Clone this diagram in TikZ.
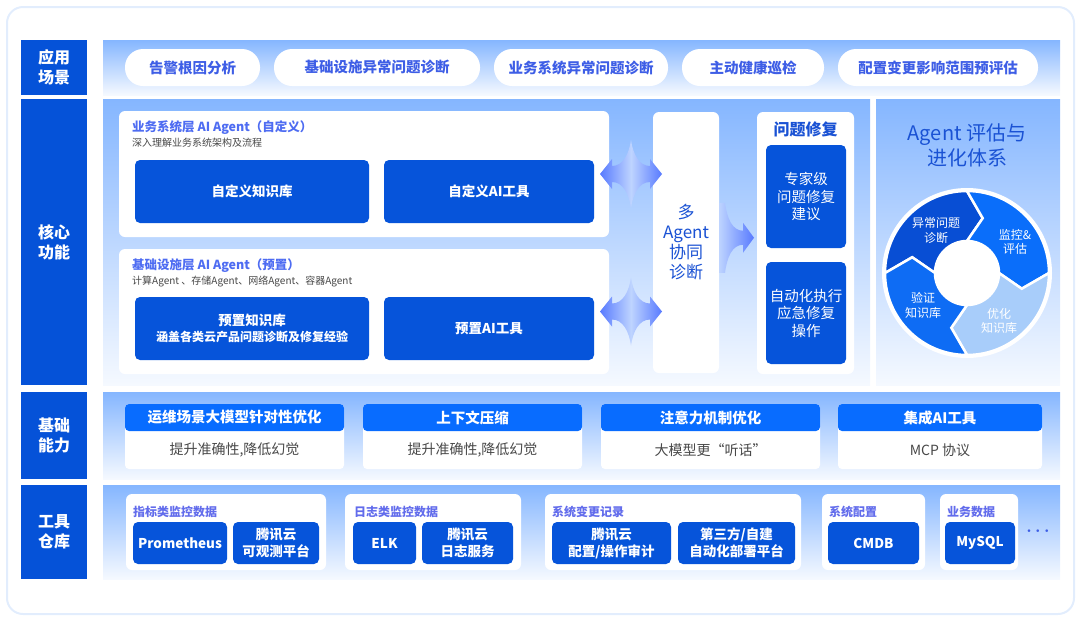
\documentclass[tikz,border=0pt]{standalone}
\usepackage{fontspec}
\setmainfont{Noto Sans CJK SC}
\usepackage{tikz}
\usetikzlibrary{calc}
\definecolor{labelblue}{RGB}{5,82,216}
\definecolor{boxblue}{RGB}{6,84,218}
\definecolor{headblue}{RGB}{8,108,255}
\definecolor{bandtop}{RGB}{133,182,255}
\definecolor{bandbot}{RGB}{245,249,255}
\definecolor{pilltext}{RGB}{62,94,230}
\definecolor{titleblue}{RGB}{78,108,242}
\definecolor{grouptext}{RGB}{98,108,236}
\definecolor{deepblue}{RGB}{26,82,212}
\definecolor{bodygrey}{RGB}{72,72,72}
\definecolor{frameline}{RGB}{226,237,253}
\definecolor{segA}{RGB}{8,78,212}
\definecolor{segB}{RGB}{10,110,250}
\definecolor{segC}{RGB}{168,205,250}
\definecolor{segD}{RGB}{14,108,244}
\definecolor{arrowblue}{RGB}{88,122,255}
\definecolor{arrowlight}{RGB}{190,212,255}

\begin{document}
\begin{tikzpicture}[x=1pt,y=-1pt,
    layer/.style={fill=labelblue,text=white,font=\fontsize{16}{20}\selectfont\bfseries,align=center,minimum width=66pt,inner sep=0pt},
    scene/.style={fill=white,rounded corners=18pt,text=pilltext,font=\fontsize{14.5}{17}\selectfont\bfseries,minimum height=37pt,inner sep=0pt},
    panel/.style={fill=white,rounded corners=6pt,inner sep=0pt},
    ptitle/.style={anchor=west,text=titleblue,font=\fontsize{12.5}{14}\selectfont\bfseries,inner sep=0pt},
    psub/.style={anchor=west,text=bodygrey,font=\fontsize{10}{12}\selectfont,inner sep=0pt},
    corebox/.style={fill=boxblue,rounded corners=5pt,text=white,font=\fontsize{13.5}{16}\selectfont\bfseries,align=center,minimum height=63pt,inner sep=0pt},
    fixbox/.style={fill=boxblue,rounded corners=5pt,text=white,font=\fontsize{14.5}{17.5}\selectfont,align=center,minimum width=80pt,inner sep=0pt},
    card/.style={fill=white,rounded corners=4pt,minimum height=65pt,inner sep=0pt},
    cardhead/.style={fill=headblue,rounded corners=4pt,text=white,font=\fontsize{14.5}{17}\selectfont\bfseries,minimum height=27pt,inner sep=0pt},
    cardbody/.style={text=bodygrey,font=\fontsize{14}{16}\selectfont,inner sep=0pt},
    group/.style={fill=white,rounded corners=6pt,minimum height=76pt,inner sep=0pt},
    gtitle/.style={anchor=west,text=grouptext,font=\fontsize{12}{14}\selectfont\bfseries,inner sep=0pt},
    tool/.style={fill=boxblue,rounded corners=5pt,text=white,font=\fontsize{13.5}{17}\selectfont\bfseries,align=center,minimum height=42pt,inner sep=0pt},
    segtext/.style={text=white,font=\fontsize{12}{14.5}\selectfont,align=center,inner sep=0pt},
    pics/dblarrow/.style={code={
      \shade[left color=arrowblue,right color=arrowblue,middle color=arrowlight]
        (-31,0) -- (-19,-15) -- (-19,-8) .. controls (-8,-8) and (-2,-20) .. (0,-34)
        .. controls (2,-20) and (8,-8) .. (19,-8) -- (19,-15) -- (31,0) -- (19,15) -- (19,8)
        .. controls (8,8) and (2,20) .. (0,34) .. controls (-2,20) and (-8,8) .. (-19,8) -- (-19,15) -- cycle;}},
    pics/fwdarrow/.style={code={
      \shade[left color=arrowlight,right color=arrowblue]
        (16,0) -- (5,-15) -- (5,-7) .. controls (-6,-7) and (-11,-20) .. (-13,-35) -- (-19,-35)
        -- (-19,35) -- (-13,35) .. controls (-11,20) and (-6,7) .. (5,7) -- (5,15) -- cycle;}}]
  \useasboundingbox (0,0) rectangle (1080,622);
  \draw[frameline,line width=2pt,rounded corners=16pt] (7,7) rectangle (1074,614);   % outer frame

  % bands
  \shade[top color=bandtop,bottom color=bandbot] (103,40) rectangle (1060,95);
  \shade[top color=bandtop,bottom color=bandbot] (103,99) rectangle (870,385);
  \shade[top color=bandtop,bottom color=bandbot] (876,99) rectangle (1060,385);
  \shade[top color=bandtop,bottom color=bandbot] (103,392) rectangle (1060,479);
  \shade[top color=bandtop,bottom color=bandbot] (103,485) rectangle (1060,579);

  % layer labels
  \node[layer,minimum height=55pt] (scenes) at (54,67.5) {应用\\场景};
  \node[layer,minimum height=286pt] (core) at (54,242) {核心\\功能};
  \node[layer,minimum height=87pt] (basic) at (54,435.5) {基础\\能力};
  \node[layer,minimum height=94pt] (tools) at (54,532) {工具\\仓库};

  % application scenes
  \node[scene,minimum width=135pt] (s1) at (192.5,67.5) {告警根因分析};
  \node[scene,minimum width=206pt] (s2) at (377,67.5) {基础设施异常问题诊断};
  \node[scene,minimum width=174pt] (s3) at (581,67.5) {业务系统异常问题诊断};
  \node[scene,minimum width=142pt] (s4) at (753,67.5) {主动健康巡检};
  \node[scene,minimum width=200pt] (s5) at (938,67.5) {配置变更影响范围预评估};

  % core functions
  \node[panel,minimum width=490pt,minimum height=126pt] (biz) at (364,174) {};
  \node[ptitle] (biztitle) at (132,128) {业务系统层 AI Agent（自定义）};
  \node[psub] (bizsub) at (132,143) {深入理解业务系统架构及流程};
  \node[corebox,minimum width=234pt] (kbcustom) at (252,191.5) {自定义知识库};
  \node[corebox,minimum width=210pt] (toolcustom) at (489,191.5) {自定义AI工具};

  \node[panel,minimum width=490pt,minimum height=125pt] (infra) at (364,311.5) {};
  \node[ptitle] (infratitle) at (132,266) {基础设施层 AI Agent（预置）};
  \node[psub] (infrasub) at (132,281) {计算Agent 、存储Agent、网络Agent、容器Agent};
  \node[corebox,minimum width=234pt] (kbpreset) at (252,328.5) {预置知识库\\{\fontsize{12}{15}\selectfont 涵盖各类云产品问题诊断及修复经验}};
  \node[corebox,minimum width=210pt] (toolpreset) at (489,328.5) {预置AI工具};

  \node[panel,minimum width=66pt,minimum height=261pt,text=deepblue,font=\fontsize{17}{20}\selectfont,align=center] (multi) at (686,242.5) {多\\Agent\\协同\\诊断};
  \node[panel,minimum width=97pt,minimum height=262pt] (fix) at (805.5,243) {};
  \node[text=deepblue,font=\fontsize{16}{18}\selectfont\bfseries,inner sep=0pt] (fixtitle) at (805.5,129) {问题修复};
  \node[fixbox,minimum height=103pt] (fixadvice) at (806,196.5) {专家级\\问题修复\\建议};
  \node[fixbox,minimum height=102pt] (fixauto) at (806,313) {自动化执行\\应急修复\\操作};

  \pic at ($(biz.east)!0.5!(biz.east -| multi.west)$) {dblarrow};
  \pic at ($(infra.east)!0.5!(infra.east -| multi.west)$) {dblarrow};
  \pic at ($(multi.east)!0.5!(fix.west)+(0,-5)$) {fwdarrow};

  % evaluation cycle
  \node[text=deepblue,font=\fontsize{20}{25}\selectfont,align=center,inner sep=0pt] (evaltitle) at (967,145.5) {Agent 评估与\\进化体系};
  \begin{scope}[shift={(967,273)},yscale=-1]
    \filldraw[fill=segA,draw=white,line width=2.5pt] (180:82) arc[start angle=180,end angle=90,radius=82] -- (74:57) -- (90:32) arc[start angle=90,end angle=180,radius=32] -- (164:57) -- cycle;
    \filldraw[fill=segB,draw=white,line width=2.5pt] (90:82) arc[start angle=90,end angle=0,radius=82] -- (-16:57) -- (0:32) arc[start angle=0,end angle=90,radius=32] -- (74:57) -- cycle;
    \filldraw[fill=segC,draw=white,line width=2.5pt] (0:82) arc[start angle=0,end angle=-90,radius=82] -- (-106:57) -- (-90:32) arc[start angle=-90,end angle=0,radius=32] -- (-16:57) -- cycle;
    \filldraw[fill=segD,draw=white,line width=2.5pt] (-90:82) arc[start angle=-90,end angle=-180,radius=82] -- (164:57) -- (180:32) arc[start angle=-180,end angle=-90,radius=32] -- (-106:57) -- cycle;
    \draw[white,line width=3pt] (0,0) circle[radius=83.5];
    \fill[white] (0,0) circle[radius=32];
  \end{scope}
  \node[segtext] (diag) at (936,230.5) {异常问题\\诊断};
  \node[segtext] (monitor) at (1015,242) {监控\&\\评估};
  \node[segtext] (optimize) at (999,321) {优化\\知识库};
  \node[segtext] (verify) at (923,305.5) {验证\\知识库};

  % basic capabilities
  \node[card,minimum width=219pt] (c1) at (234.5,436.5) {};
  \node[cardhead,minimum width=219pt] (h1) at (234.5,417.5) {运维场景大模型针对性优化};
  \node[cardbody] (b1) at (234.5,450) {提升准确性,降低幻觉};
  \node[card,minimum width=219pt] (c2) at (472.5,436.5) {};
  \node[cardhead,minimum width=219pt] (h2) at (472.5,417.5) {上下文压缩};
  \node[cardbody] (b2) at (472.5,450) {提升准确性,降低幻觉};
  \node[card,minimum width=219pt] (c3) at (710.5,436.5) {};
  \node[cardhead,minimum width=219pt] (h3) at (710.5,417.5) {注意力机制优化};
  \node[cardbody] (b3) at (710.5,450) {大模型更“听话”};
  \node[card,minimum width=204pt] (c4) at (940,436.5) {};
  \node[cardhead,minimum width=204pt] (h4) at (940,417.5) {集成AI工具};
  \node[cardbody] (b4) at (940,450) {MCP 协议};

  % tool repository
  \node[group,minimum width=200pt] (g1) at (226,532) {};
  \node[gtitle] (g1title) at (133,512) {指标类监控数据};
  \node[tool,minimum width=94pt] (prom) at (180,543) {Prometheus};
  \node[tool,minimum width=86pt] (observe) at (276,543) {腾讯云\\可观测平台};
  \node[group,minimum width=176pt] (g2) at (433,532) {};
  \node[gtitle] (g2title) at (354,512) {日志类监控数据};
  \node[tool,minimum width=63pt] (elk) at (384.5,543) {ELK};
  \node[tool,minimum width=91pt] (cls) at (467.5,543) {腾讯云\\日志服务};
  \node[group,minimum width=256pt] (g3) at (673,532) {};
  \node[gtitle] (g3title) at (552,512) {系统变更记录};
  \node[tool,minimum width=119pt] (audit) at (611.5,543) {腾讯云\\配置/操作审计};
  \node[tool,minimum width=117pt] (deploy) at (736.5,543) {第三方/自建\\自动化部署平台};
  \node[group,minimum width=103pt] (g4) at (873.5,532) {};
  \node[gtitle] (g4title) at (829,512) {系统配置};
  \node[tool,minimum width=91pt] (cmdb) at (873.5,543) {CMDB};
  \node[group,minimum width=78pt] (g5) at (979,532) {};
  \node[gtitle] (g5title) at (947,512) {业务数据};
  \node[tool,minimum width=70pt] (mysql) at (980,543) {MySQL};
  \node[text=pilltext,font=\fontsize{17}{17}\selectfont\boldmath,inner sep=0pt] (more) at (1038,531) {$\cdots$};
\end{tikzpicture}
\end{document}
